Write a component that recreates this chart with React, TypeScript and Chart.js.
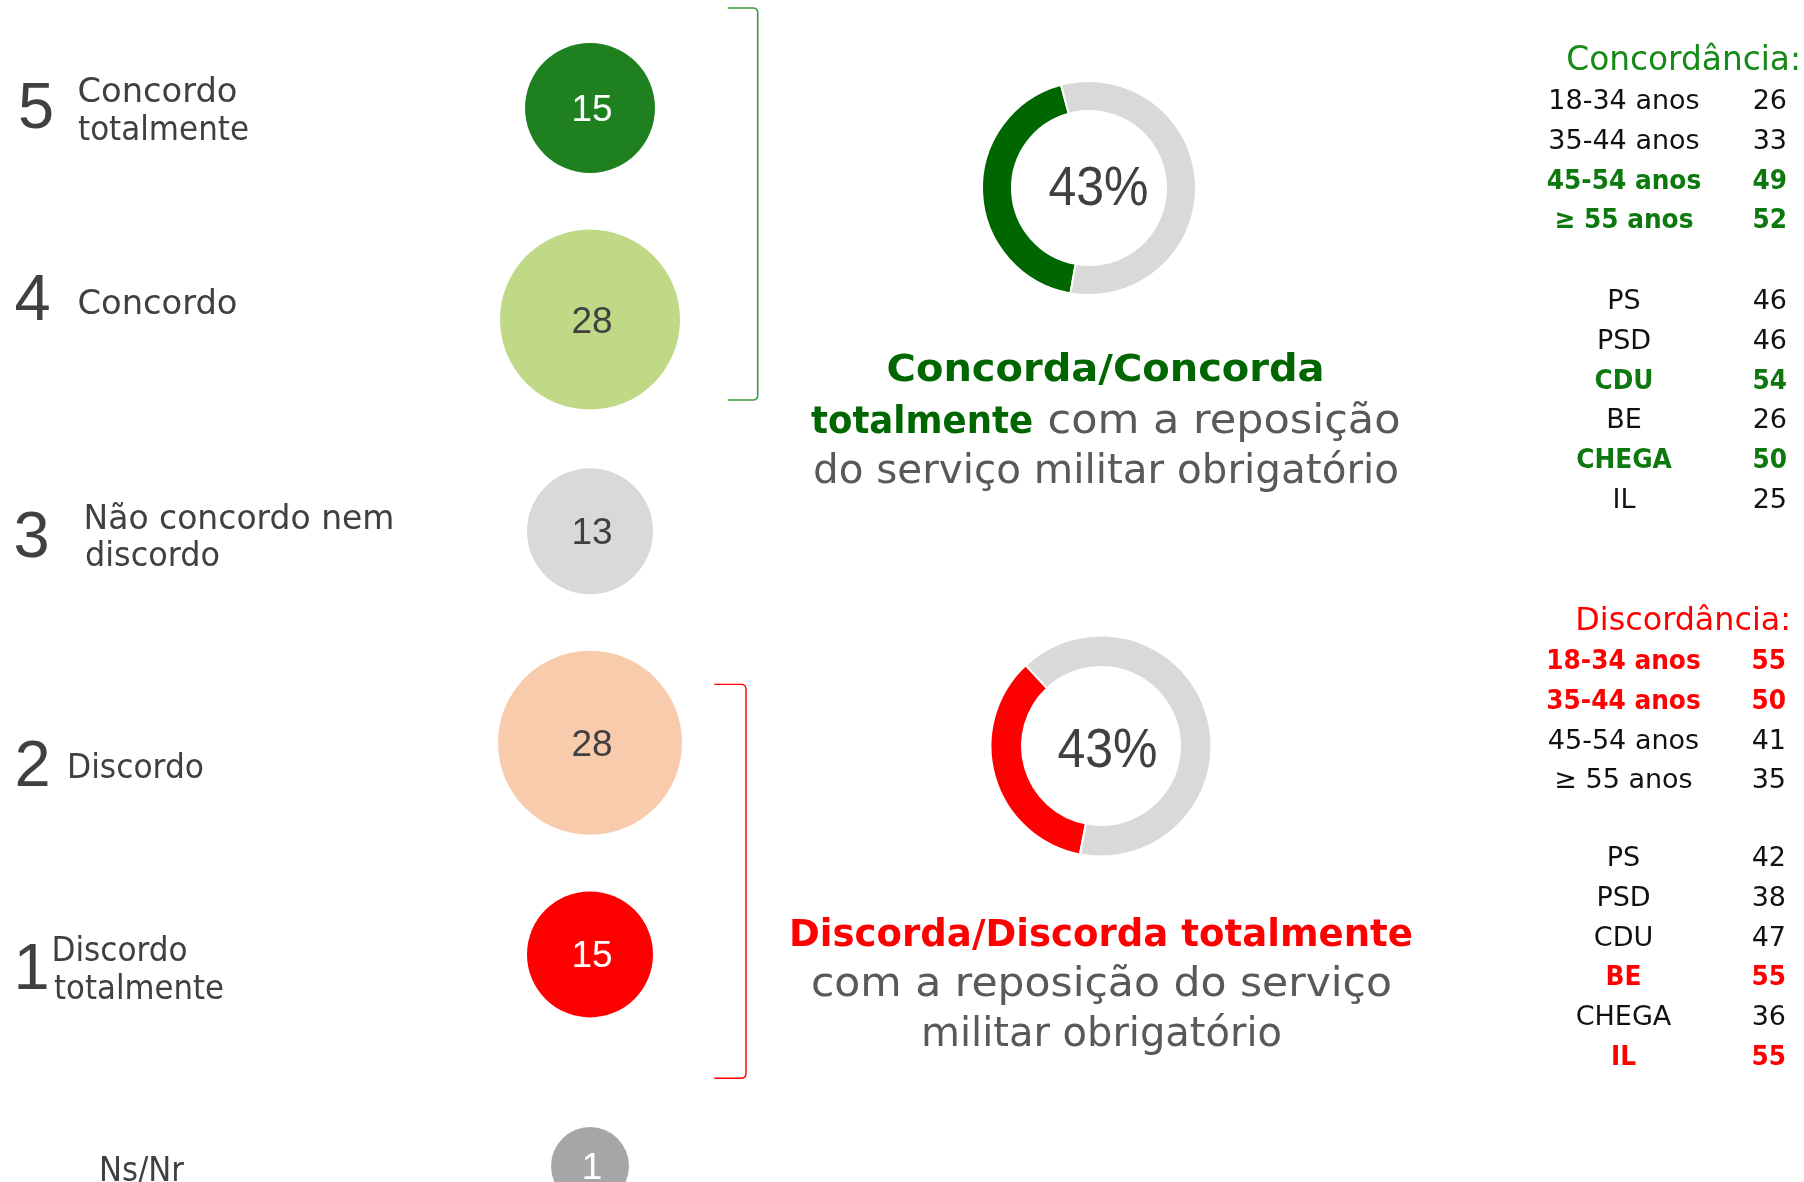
import React, { useEffect, useRef } from "react";
import { Chart, registerables } from "chart.js";

Chart.register(...registerables);

// ---------- data ----------
const likertScores = [5, 4, 3, 2, 1, 0];
const likertValues = [15, 28, 13, 28, 15, 1];

const agreeTotal = likertValues[0] + likertValues[1]; // 43
const disagreeTotal = likertValues[3] + likertValues[4]; // 43
const agreeArc = [43, 57];
const disagreeArc = [35, 65];

const ageGroups = ["18-34 anos", "35-44 anos", "45-54 anos", "≥ 55 anos"];
const parties = ["PS", "PSD", "CDU", "BE", "CHEGA", "IL"];
const agreeByAge = [26, 33, 49, 52];
const agreeByParty = [46, 46, 54, 26, 50, 25];
const disagreeByAge = [55, 50, 41, 35];
const disagreeByParty = [42, 38, 47, 55, 36, 55];
const HIGHLIGHT_MIN = 48;

// ---------- styles ----------
const bubbleColors = ["#1f801f", "#bfd987", "#d9d9d9", "#f8cbad", "#ff0000", "#a6a6a6"];
const bubbleTextColors = ["#ffffff", "#404040", "#404040", "#404040", "#ffffff", "#ffffff"];
const bubbleRadii = [65, 90, 63, 92, 63, 39];

const DARK = "#404040";
const GREY_TXT = "#595959";
const DONUT_GREEN = "#006600";
const RING_GREY = "#d9d9d9";
const RED = "#ff0000";
const TABLE_GREEN = "#0d780d";
const TITLE_GREEN = "#168a16";
const FONT = "'DejaVu Sans', sans-serif";
const NUM_FONT = "'Liberation Sans', Arial, sans-serif";

let measureCtx: CanvasRenderingContext2D | null = null;
function textWidth(text: string, font: string): number {
  if (!measureCtx) measureCtx = document.createElement("canvas").getContext("2d");
  if (!measureCtx) return 0;
  measureCtx.font = font;
  return measureCtx.measureText(text).width;
}

function BubbleColumn() {
  const ref = useRef<HTMLCanvasElement>(null);
  useEffect(() => {
    const valueLabels = {
      id: "valueLabels",
      afterDatasetsDraw(chart: any) {
        const ctx = chart.ctx;
        const meta = chart.getDatasetMeta(0);
        meta.data.forEach((el: any, i: number) => {
          ctx.save();
          ctx.font = `37px ${NUM_FONT}`;
          ctx.fillStyle = bubbleTextColors[i];
          ctx.textAlign = "center";
          ctx.textBaseline = "alphabetic";
          ctx.fillText(String(likertValues[i]), el.x + 2, el.y + 13);
          ctx.restore();
        });
      },
    };
    const chart = new Chart(ref.current as HTMLCanvasElement, {
      type: "bubble",
      data: {
        datasets: [
          {
            data: likertValues.map((v, i) => ({ x: 1, y: likertScores[i], r: bubbleRadii[i] })),
            backgroundColor: bubbleColors,
            borderWidth: 0,
            clip: false as any,
          },
        ],
      },
      options: {
        animation: false,
        responsive: false,
        devicePixelRatio: 1,
        events: [],
        layout: { autoPadding: false, padding: { top: 108, bottom: 16, left: 0, right: 0 } },
        plugins: { legend: { display: false }, tooltip: { enabled: false } },
        scales: {
          x: { type: "linear", min: 0, max: 2, display: false },
          y: { type: "linear", min: 0, max: 5, display: false },
        },
      },
      plugins: [valueLabels],
    } as any);
    return () => chart.destroy();
  }, []);
  return (
    <canvas
      ref={ref}
      width={380}
      height={1182}
      style={{ position: "absolute", left: 400, top: 0, width: 380, height: 1182 }}
    />
  );
}

function Donut(props: {
  values: number[];
  color: string;
  left: number;
  top: number;
  size: number;
  radius: number;
  cutout: string;
  rotation: number;
}) {
  const ref = useRef<HTMLCanvasElement>(null);
  useEffect(() => {
    const chart = new Chart(ref.current as HTMLCanvasElement, {
      type: "doughnut",
      data: {
        labels: ["sim", "resto"],
        datasets: [
          {
            data: props.values,
            backgroundColor: [props.color, RING_GREY],
            borderColor: "#ffffff",
            borderWidth: 2,
          },
        ],
      },
      options: {
        animation: false,
        responsive: false,
        devicePixelRatio: 1,
        events: [],
        radius: props.radius,
        cutout: props.cutout,
        rotation: props.rotation,
        plugins: { legend: { display: false }, tooltip: { enabled: false } },
      },
    } as any);
    return () => chart.destroy();
  }, []);
  return (
    <canvas
      ref={ref}
      width={props.size}
      height={props.size}
      style={{
        position: "absolute",
        left: props.left,
        top: props.top,
        width: props.size,
        height: props.size,
      }}
    />
  );
}

function T(p: {
  x: number;
  y: number;
  children: any;
  size: number;
  fill: string;
  bold?: boolean;
  anchor?: string;
  len?: number;
  family?: string;
}) {
  const extra: any = {};
  if (p.len) {
    extra.textLength = p.len;
    extra.lengthAdjust = "spacingAndGlyphs";
  }
  return (
    <text
      x={p.x}
      y={p.y}
      fontFamily={p.family || FONT}
      fontSize={p.size}
      fontWeight={p.bold ? "bold" : "normal"}
      fill={p.fill}
      textAnchor={p.anchor || "start"}
      {...extra}
    >
      {p.children}
    </text>
  );
}

const ROW_STEP = 39.8;
const BOLD_SQUEEZE = 0.92;

function TableBlock(b: {
  title: string;
  titleX: number;
  titleY: number;
  titleSize: number;
  titleColor: string;
  hiColor: string;
  labelX: number;
  valueX: number;
  ageY: number;
  partyY: number;
  ageValues: number[];
  partyValues: number[];
}) {
  const rows: any[] = [];
  const addRow = (label: string, v: number, y: number, key: string) => {
    const hi = v >= HIGHLIGHT_MIN;
    const fill = hi ? b.hiColor : "#111111";
    const size = 27;
    const boldFont = `bold ${size}px 'DejaVu Sans'`;
    const labelLen = hi ? textWidth(label, boldFont) * BOLD_SQUEEZE : undefined;
    const valueLen = hi ? textWidth(String(v), boldFont) * BOLD_SQUEEZE : undefined;
    rows.push(
      <g key={key}>
        <T x={b.labelX} y={y} size={size} fill={fill} bold={hi} anchor="middle" len={labelLen}>
          {label}
        </T>
        <T x={b.valueX} y={y} size={size} fill={fill} bold={hi} anchor="end" len={valueLen}>
          {String(v)}
        </T>
      </g>
    );
  };
  ageGroups.forEach((g, i) => addRow(g, b.ageValues[i], b.ageY + i * ROW_STEP, "a" + i));
  parties.forEach((p, i) => addRow(p, b.partyValues[i], b.partyY + i * ROW_STEP, "p" + i));
  return (
    <g>
      <T x={b.titleX} y={b.titleY} size={b.titleSize} fill={b.titleColor} anchor="end">
        {b.title}
      </T>
      {rows}
    </g>
  );
}

export default function App() {
  return (
    <div
      style={{
        position: "absolute",
        left: 0,
        top: 0,
        width: 1804,
        height: 1182,
        background: "#ffffff",
        overflow: "hidden",
      }}
    >
      <BubbleColumn />
      <Donut values={agreeArc} color={DONUT_GREEN} left={969} top={68} size={240} radius={107} cutout="72%" rotation={190} />
      <Donut values={disagreeArc} color={RED} left={981} top={626} size={240} radius={110.5} cutout="71.5%" rotation={191} />
      <svg
        width={1804}
        height={1182}
        style={{ position: "absolute", left: 0, top: 0, pointerEvents: "none" }}
      >
        {/* brackets */}
        <path d="M 727.7 8 H 753 Q 757.7 8 757.7 13 V 395 Q 757.7 400 753 400 H 727.7" fill="none" stroke="#3c9c3c" strokeWidth={1.6} />
        <path d="M 714.3 684.4 H 741 Q 746 684.4 746 689.4 V 1073 Q 746 1078.3 741 1078.3 H 714.3" fill="none" stroke={RED} strokeWidth={1.4} />

        {/* left scale labels */}
        <T x={18} y={128} size={65} fill={DARK} family={NUM_FONT}>5</T>
        <T x={77.5} y={101.5} size={33} fill={DARK} len={160}>Concordo</T>
        <T x={78} y={140} size={33} fill={DARK} len={171}>totalmente</T>

        <T x={14.5} y={320} size={65} fill={DARK} family={NUM_FONT}>4</T>
        <T x={77.5} y={314} size={33} fill={DARK} len={160}>Concordo</T>

        <T x={13.6} y={557} size={65} fill={DARK} family={NUM_FONT}>3</T>
        <T x={83.5} y={529} size={33} fill={DARK} len={311}>Não concordo nem</T>
        <T x={85} y={566} size={33} fill={DARK} len={135}>discordo</T>

        <T x={14.4} y={786} size={65} fill={DARK} family={NUM_FONT}>2</T>
        <T x={67} y={778} size={33} fill={DARK} len={137}>Discordo</T>

        <T x={13.4} y={989} size={65} fill={DARK} family={NUM_FONT}>1</T>
        <T x={51.5} y={961} size={33} fill={DARK} len={136}>Discordo</T>
        <T x={54} y={999} size={33} fill={DARK} len={170}>totalmente</T>

        <T x={99} y={1181} size={33} fill={DARK} len={85}>Ns/Nr</T>

        {/* donut centre values */}
        <T x={1098.4} y={205} size={56} fill={DARK} anchor="middle" family={NUM_FONT} len={100}>
          {agreeTotal + "%"}
        </T>
        <T x={1107.5} y={766.5} size={56} fill={DARK} anchor="middle" family={NUM_FONT} len={100}>
          {disagreeTotal + "%"}
        </T>

        {/* captions */}
        <T x={886.6} y={381} size={37} fill={DONUT_GREEN} bold len={438}>Concorda/Concorda</T>
        <T x={811} y={433} size={37} fill={DONUT_GREEN} bold len={222}>totalmente</T>
        <T x={1047.5} y={433} size={40} fill={GREY_TXT} len={353}>com a reposição</T>
        <T x={813} y={482.6} size={40} fill={GREY_TXT} len={586}>do serviço militar obrigatório</T>

        <T x={789} y={946} size={37} fill={RED} bold len={624}>Discorda/Discorda totalmente</T>
        <T x={811} y={996} size={40} fill={GREY_TXT} len={581}>com a reposição do serviço</T>
        <T x={921} y={1046} size={40} fill={GREY_TXT} len={361}>militar obrigatório</T>

        {/* breakdown tables */}
        <TableBlock
          title="Concordância:"
          titleX={1801}
          titleY={69.6}
          titleSize={32.8}
          titleColor={TITLE_GREEN}
          hiColor={TABLE_GREEN}
          labelX={1624}
          valueX={1787}
          ageY={109}
          partyY={309}
          ageValues={agreeByAge}
          partyValues={agreeByParty}
        />
        <TableBlock
          title="Discordância:"
          titleX={1791}
          titleY={630}
          titleSize={31.8}
          titleColor={RED}
          hiColor={RED}
          labelX={1623.5}
          valueX={1786}
          ageY={669}
          partyY={866}
          ageValues={disagreeByAge}
          partyValues={disagreeByParty}
        />
      </svg>
    </div>
  );
}
